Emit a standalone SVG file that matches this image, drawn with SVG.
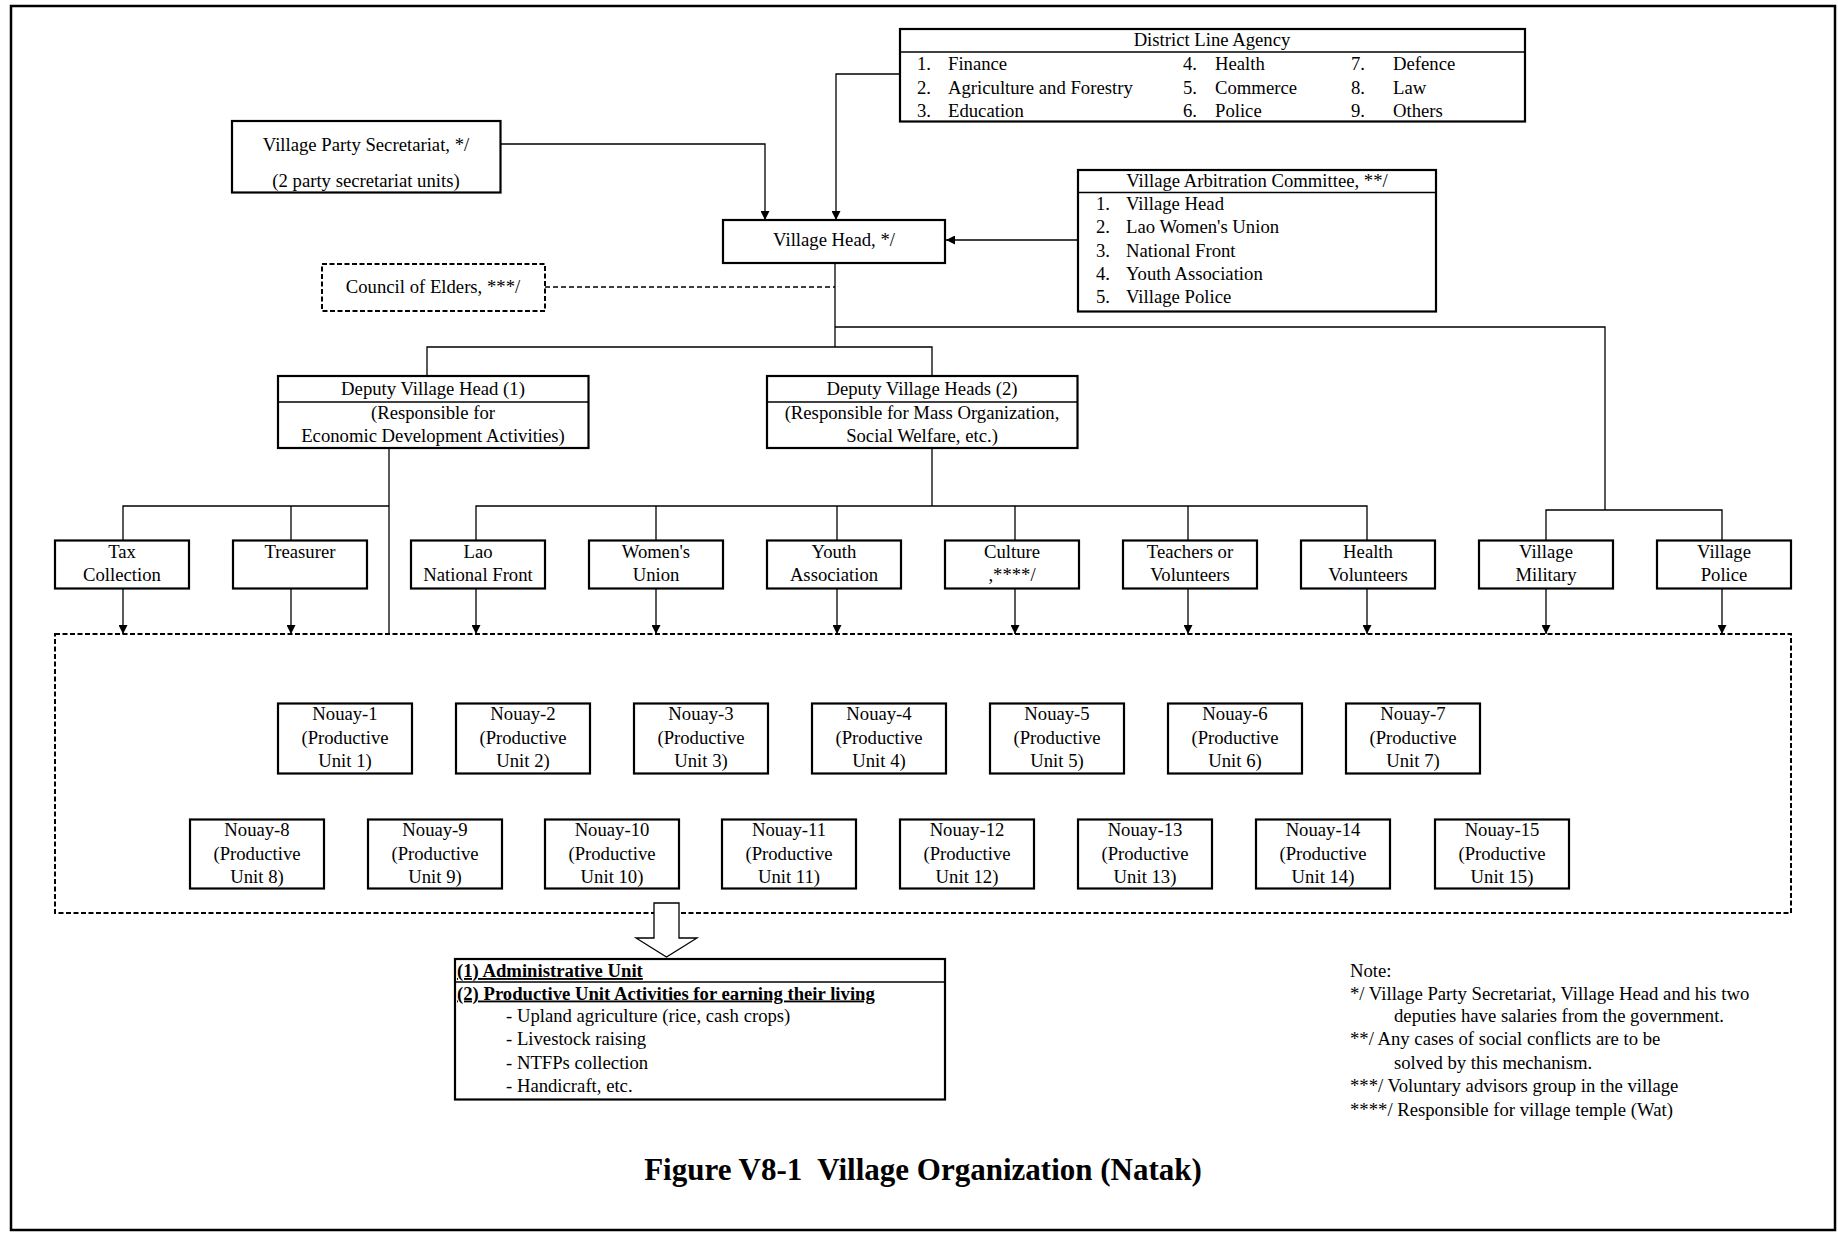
<svg xmlns="http://www.w3.org/2000/svg" width="1838" height="1233" viewBox="0 0 1838 1233">
<style>
text{font-family:"Liberation Serif","Times New Roman",serif;font-size:18.7px;fill:#000}
.c{text-anchor:middle}
.box{fill:#fff;stroke:#000;stroke-width:2.2}
.dbox{fill:#fff;stroke:#000;stroke-width:2;stroke-dasharray:5,2.5}
.ln{fill:none;stroke:#000;stroke-width:1.3}
.dl{fill:none;stroke:#000;stroke-width:1.3;stroke-dasharray:5,3}
.arr{marker-end:url(#ah)}
.b{font-weight:bold;text-decoration:underline}
.title{font-size:31px;font-weight:bold}
</style>
<defs>
<marker id="ah" viewBox="0 0 10 10" refX="10" refY="5" markerWidth="13" markerHeight="9" markerUnits="userSpaceOnUse" orient="auto">
<path d="M0,0 L10,5 L0,10 z" fill="#000"/>
</marker>
</defs>
<rect x="11" y="6" width="1824" height="1224" fill="#fff" stroke="#000" stroke-width="2.5"/>

<g id="connectors">
<polyline class="ln arr" points="900,74 836,74 836,220"/>
<polyline class="ln arr" points="500,144 765,144 765,220"/>
<line class="ln arr" x1="1078" y1="240" x2="946" y2="240"/>
<line class="dl" x1="545" y1="287" x2="835" y2="287"/>
<polyline class="ln" points="835,263 835,347"/>
<polyline class="ln" points="427,376 427,347 932,347 932,376"/>
<polyline class="ln" points="835,327 1605,327 1605,510"/>
<polyline class="ln" points="1546,540 1546,510 1722,510 1722,540"/>
<polyline class="ln" points="123,540 123,506 389,506"/>
<line class="ln" x1="291" y1="506" x2="291" y2="540"/>
<line class="ln" x1="389" y1="448" x2="389" y2="678"/>
<line class="ln" x1="932" y1="448" x2="932" y2="506"/>
<polyline class="ln" points="476,540 476,506 1367,506 1367,540"/>
<line class="ln" x1="656" y1="506" x2="656" y2="540"/>
<line class="ln" x1="837" y1="506" x2="837" y2="540"/>
<line class="ln" x1="1015" y1="506" x2="1015" y2="540"/>
<line class="ln" x1="1188" y1="506" x2="1188" y2="540"/>
<line class="ln arr" x1="123" y1="589" x2="123" y2="634"/>
<line class="ln arr" x1="291" y1="589" x2="291" y2="634"/>
<line class="ln arr" x1="476" y1="589" x2="476" y2="634"/>
<line class="ln arr" x1="656" y1="589" x2="656" y2="634"/>
<line class="ln arr" x1="837" y1="589" x2="837" y2="634"/>
<line class="ln arr" x1="1015" y1="589" x2="1015" y2="634"/>
<line class="ln arr" x1="1188" y1="589" x2="1188" y2="634"/>
<line class="ln arr" x1="1367" y1="589" x2="1367" y2="634"/>
<line class="ln arr" x1="1546" y1="589" x2="1546" y2="634"/>
<line class="ln arr" x1="1722" y1="589" x2="1722" y2="634"/>
<line class="ln" x1="253" y1="678" x2="1503" y2="678"/>
<line class="ln" x1="342" y1="678" x2="342" y2="703"/>
<line class="ln" x1="520" y1="678" x2="520" y2="703"/>
<line class="ln" x1="702" y1="678" x2="702" y2="703"/>
<line class="ln" x1="880" y1="678" x2="880" y2="703"/>
<line class="ln" x1="1058" y1="678" x2="1058" y2="703"/>
<line class="ln" x1="1237" y1="678" x2="1237" y2="703"/>
<line class="ln" x1="1414" y1="678" x2="1414" y2="703"/>
<line class="ln" x1="253" y1="678" x2="253" y2="819"/>
<line class="ln" x1="434" y1="678" x2="434" y2="819"/>
<line class="ln" x1="611" y1="678" x2="611" y2="819"/>
<line class="ln" x1="789" y1="678" x2="789" y2="819"/>
<line class="ln" x1="967" y1="678" x2="967" y2="819"/>
<line class="ln" x1="1145" y1="678" x2="1145" y2="819"/>
<line class="ln" x1="1321" y1="678" x2="1321" y2="819"/>
<line class="ln" x1="1503" y1="678" x2="1503" y2="819"/>
</g>

<g id="district-line-agency">
<rect class="box" x="900" y="29" width="625" height="92.5"/>
<line class="ln" x1="900" y1="52" x2="1525" y2="52" stroke-width="1.5"/>
<text class="c" x="1212" y="46">District Line Agency</text>
<text x="917" y="70">1.</text><text x="948" y="70">Finance</text>
<text x="917" y="93.5">2.</text><text x="948" y="93.5">Agriculture and Forestry</text>
<text x="917" y="117">3.</text><text x="948" y="117">Education</text>
<text x="1183" y="70">4.</text><text x="1215" y="70">Health</text>
<text x="1183" y="93.5">5.</text><text x="1215" y="93.5">Commerce</text>
<text x="1183" y="117">6.</text><text x="1215" y="117">Police</text>
<text x="1351" y="70">7.</text><text x="1393" y="70">Defence</text>
<text x="1351" y="93.5">8.</text><text x="1393" y="93.5">Law</text>
<text x="1351" y="117">9.</text><text x="1393" y="117">Others</text>
</g>

<g id="village-party-secretariat">
<rect class="box" x="232" y="121" width="268.5" height="71.5"/>
<text class="c" x="366" y="151">Village Party Secretariat, */</text>
<text class="c" x="366" y="187">(2 party secretariat units)</text>
</g>

<g id="village-head">
<rect class="box" x="723" y="220" width="222" height="43"/>
<text class="c" x="834" y="246">Village Head, */</text>
</g>

<g id="village-arbitration-committee">
<rect class="box" x="1078" y="170" width="358" height="141.5"/>
<line class="ln" x1="1078" y1="192.5" x2="1436" y2="192.5" stroke-width="1.5"/>
<text class="c" x="1257" y="187">Village Arbitration Committee, **/</text>
<text x="1096" y="210">1.</text><text x="1126" y="210">Village Head</text>
<text x="1096" y="233.3">2.</text><text x="1126" y="233.3">Lao Women's Union</text>
<text x="1096" y="256.5">3.</text><text x="1126" y="256.5">National Front</text>
<text x="1096" y="279.8">4.</text><text x="1126" y="279.8">Youth Association</text>
<text x="1096" y="303">5.</text><text x="1126" y="303">Village Police</text>
</g>

<g id="council-of-elders">
<rect class="dbox" x="322" y="264" width="223" height="47"/>
<text class="c" x="433" y="293">Council of Elders, ***/</text>
</g>

<g id="deputy-1">
<rect class="box" x="278" y="376" width="310.5" height="72"/>
<line class="ln" x1="278" y1="402" x2="588.5" y2="402" stroke-width="1.5"/>
<text class="c" x="433" y="395">Deputy Village Head (1)</text>
<text class="c" x="433" y="418.5">(Responsible for</text>
<text class="c" x="433" y="442">Economic Development Activities)</text>
</g>

<g id="deputy-2">
<rect class="box" x="767" y="376" width="310.5" height="72"/>
<line class="ln" x1="767" y1="402" x2="1077.5" y2="402" stroke-width="1.5"/>
<text class="c" x="922" y="395">Deputy Village Heads (2)</text>
<text class="c" x="922" y="418.5">(Responsible for Mass Organization,</text>
<text class="c" x="922" y="442">Social Welfare, etc.)</text>
</g>

<g id="tax-collection"><rect class="box" x="55" y="540.5" width="134" height="48"/><text class="c" x="122" y="558">Tax</text><text class="c" x="122" y="580.5">Collection</text></g>
<g id="treasurer"><rect class="box" x="233" y="540.5" width="134" height="48"/><text class="c" x="300" y="558">Treasurer</text></g>
<g id="lao-national-front"><rect class="box" x="411" y="540.5" width="134" height="48"/><text class="c" x="478" y="558">Lao</text><text class="c" x="478" y="580.5">National Front</text></g>
<g id="womens-union"><rect class="box" x="589" y="540.5" width="134" height="48"/><text class="c" x="656" y="558">Women's</text><text class="c" x="656" y="580.5">Union</text></g>
<g id="youth-association"><rect class="box" x="767" y="540.5" width="134" height="48"/><text class="c" x="834" y="558">Youth</text><text class="c" x="834" y="580.5">Association</text></g>
<g id="culture"><rect class="box" x="945" y="540.5" width="134" height="48"/><text class="c" x="1012" y="558">Culture</text><text class="c" x="1012" y="580.5">,****/</text></g>
<g id="teachers"><rect class="box" x="1123" y="540.5" width="134" height="48"/><text class="c" x="1190" y="558">Teachers or</text><text class="c" x="1190" y="580.5">Volunteers</text></g>
<g id="health-volunteers"><rect class="box" x="1301" y="540.5" width="134" height="48"/><text class="c" x="1368" y="558">Health</text><text class="c" x="1368" y="580.5">Volunteers</text></g>
<g id="village-military"><rect class="box" x="1479" y="540.5" width="134" height="48"/><text class="c" x="1546" y="558">Village</text><text class="c" x="1546" y="580.5">Military</text></g>
<g id="village-police"><rect class="box" x="1657" y="540.5" width="134" height="48"/><text class="c" x="1724" y="558">Village</text><text class="c" x="1724" y="580.5">Police</text></g>

<g id="productive-units-area">
<rect class="dbox" x="55" y="634" width="1736" height="279" fill="none"/>
</g>

<g id="nouay-1"><rect class="box" x="278" y="703.5" width="134" height="70"/><text class="c" x="345" y="720">Nouay-1</text><text class="c" x="345" y="743.5">(Productive</text><text class="c" x="345" y="767">Unit 1)</text></g>
<g id="nouay-2"><rect class="box" x="456" y="703.5" width="134" height="70"/><text class="c" x="523" y="720">Nouay-2</text><text class="c" x="523" y="743.5">(Productive</text><text class="c" x="523" y="767">Unit 2)</text></g>
<g id="nouay-3"><rect class="box" x="634" y="703.5" width="134" height="70"/><text class="c" x="701" y="720">Nouay-3</text><text class="c" x="701" y="743.5">(Productive</text><text class="c" x="701" y="767">Unit 3)</text></g>
<g id="nouay-4"><rect class="box" x="812" y="703.5" width="134" height="70"/><text class="c" x="879" y="720">Nouay-4</text><text class="c" x="879" y="743.5">(Productive</text><text class="c" x="879" y="767">Unit 4)</text></g>
<g id="nouay-5"><rect class="box" x="990" y="703.5" width="134" height="70"/><text class="c" x="1057" y="720">Nouay-5</text><text class="c" x="1057" y="743.5">(Productive</text><text class="c" x="1057" y="767">Unit 5)</text></g>
<g id="nouay-6"><rect class="box" x="1168" y="703.5" width="134" height="70"/><text class="c" x="1235" y="720">Nouay-6</text><text class="c" x="1235" y="743.5">(Productive</text><text class="c" x="1235" y="767">Unit 6)</text></g>
<g id="nouay-7"><rect class="box" x="1346" y="703.5" width="134" height="70"/><text class="c" x="1413" y="720">Nouay-7</text><text class="c" x="1413" y="743.5">(Productive</text><text class="c" x="1413" y="767">Unit 7)</text></g>

<g id="nouay-8"><rect class="box" x="190" y="819.5" width="134" height="69"/><text class="c" x="257" y="836">Nouay-8</text><text class="c" x="257" y="859.5">(Productive</text><text class="c" x="257" y="883">Unit 8)</text></g>
<g id="nouay-9"><rect class="box" x="368" y="819.5" width="134" height="69"/><text class="c" x="435" y="836">Nouay-9</text><text class="c" x="435" y="859.5">(Productive</text><text class="c" x="435" y="883">Unit 9)</text></g>
<g id="nouay-10"><rect class="box" x="545" y="819.5" width="134" height="69"/><text class="c" x="612" y="836">Nouay-10</text><text class="c" x="612" y="859.5">(Productive</text><text class="c" x="612" y="883">Unit 10)</text></g>
<g id="nouay-11"><rect class="box" x="722" y="819.5" width="134" height="69"/><text class="c" x="789" y="836">Nouay-11</text><text class="c" x="789" y="859.5">(Productive</text><text class="c" x="789" y="883">Unit 11)</text></g>
<g id="nouay-12"><rect class="box" x="900" y="819.5" width="134" height="69"/><text class="c" x="967" y="836">Nouay-12</text><text class="c" x="967" y="859.5">(Productive</text><text class="c" x="967" y="883">Unit 12)</text></g>
<g id="nouay-13"><rect class="box" x="1078" y="819.5" width="134" height="69"/><text class="c" x="1145" y="836">Nouay-13</text><text class="c" x="1145" y="859.5">(Productive</text><text class="c" x="1145" y="883">Unit 13)</text></g>
<g id="nouay-14"><rect class="box" x="1256" y="819.5" width="134" height="69"/><text class="c" x="1323" y="836">Nouay-14</text><text class="c" x="1323" y="859.5">(Productive</text><text class="c" x="1323" y="883">Unit 14)</text></g>
<g id="nouay-15"><rect class="box" x="1435" y="819.5" width="134" height="69"/><text class="c" x="1502" y="836">Nouay-15</text><text class="c" x="1502" y="859.5">(Productive</text><text class="c" x="1502" y="883">Unit 15)</text></g>

<g id="hollow-arrow">
<polygon points="654,903 679,903 679,938 697,938 666.5,957 636,938 654,938" fill="#fff" stroke="#000" stroke-width="1.3"/>
</g>

<g id="unit-functions">
<rect class="box" x="455" y="959" width="490" height="140.5"/>
<line class="ln" x1="455" y1="982" x2="945" y2="982" stroke-width="1.5"/>
<text class="b" x="457" y="977">(1) Administrative Unit</text>
<text class="b" x="457" y="999.5">(2) Productive Unit Activities for earning their living</text>
<text x="506" y="1021.5">- Upland agriculture (rice, cash crops)</text>
<text x="506" y="1045">- Livestock raising</text>
<text x="506" y="1068.5">- NTFPs collection</text>
<text x="506" y="1092">- Handicraft, etc.</text>
</g>

<g id="notes">
<text x="1350" y="977">Note:</text>
<text x="1350" y="1000">*/ Village Party Secretariat, Village Head and his two</text>
<text x="1394" y="1022">deputies have salaries from the government.</text>
<text x="1350" y="1045">**/ Any cases of social conflicts are to be</text>
<text x="1394" y="1068.5">solved by this mechanism.</text>
<text x="1350" y="1092">***/ Voluntary advisors group in the village</text>
<text x="1350" y="1115.5">****/ Responsible for village temple (Wat)</text>
</g>

<text class="title c" x="923" y="1180">Figure V8-1&#160; Village Organization (Natak)</text>
</svg>
